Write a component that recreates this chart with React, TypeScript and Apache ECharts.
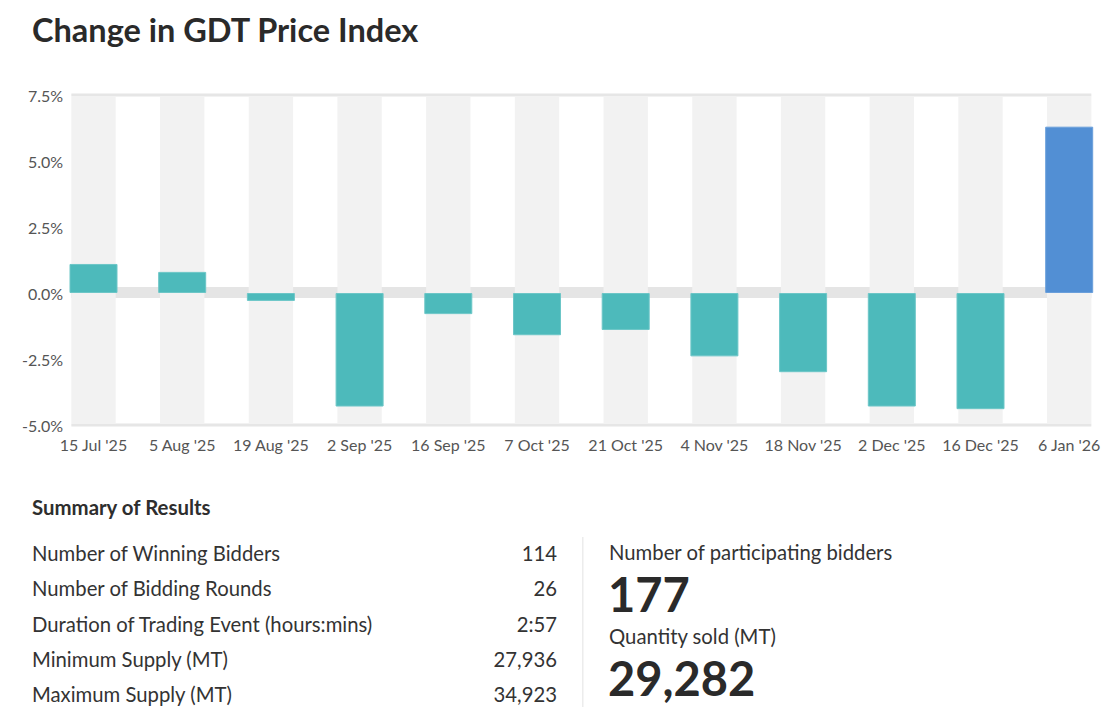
import React, { useEffect, useRef } from "react";
import * as echarts from "echarts";

const TITLE = "Change in GDT Price Index";
const CATEGORIES = [
  "15 Jul '25", "5 Aug '25", "19 Aug '25", "2 Sep '25", "16 Sep '25", "7 Oct '25",
  "21 Oct '25", "4 Nov '25", "18 Nov '25", "2 Dec '25", "16 Dec '25", "6 Jan '26",
];
const CHANGES = [1.1, 0.8, -0.3, -4.3, -0.8, -1.6, -1.4, -2.4, -3.0, -4.3, -4.4, 6.3];
const Y_MIN = -5;
const Y_MAX = 7.5;
const Y_STEP = 2.5;

const SUMMARY_TITLE = "Summary of Results";
const SUMMARY_LABELS = [
  "Number of Winning Bidders",
  "Number of Bidding Rounds",
  "Duration of Trading Event (hours:mins)",
  "Minimum Supply (MT)",
  "Maximum Supply (MT)",
];
const SUMMARY_VALUES = ["114", "26", "2:57", "27,936", "34,923"];
const KPI_LABELS = ["Number of participating bidders", "Quantity sold (MT)"];
const KPI_VALUES = ["177", "29,282"];

const FONT = "Lato, 'Noto Sans', sans-serif";
const TEAL = "#4dbabb";
const BLUE = "#528fd4";

export default function App() {
  const ref = useRef<HTMLDivElement>(null);
  useEffect(() => {
    if (!ref.current) return;
    const chart = echarts.init(ref.current, null, { renderer: "svg" });
    const last = CATEGORIES.length - 1;

    const graphics: any[] = [
      {
        type: "text", x: 32, y: 29.5,
        style: { text: TITLE, font: `bold 32.5px ${FONT}`, fill: "#2a2a2a", verticalAlign: "middle" },
      },
      {
        type: "text", x: 32, y: 507,
        style: { text: SUMMARY_TITLE, font: `bold 20.4px ${FONT}`, fill: "#2e2e2e", verticalAlign: "middle" },
      },
      {
        type: "rect", shape: { x: 582, y: 537, width: 1.5, height: 170 },
        style: { fill: "#ececec" },
      },
    ];
    SUMMARY_LABELS.forEach((lab, i) => {
      const y = 553 + i * 35.3;
      graphics.push({
        type: "text", x: 32, y,
        style: { text: lab, font: `20.3px ${FONT}`, fill: "#333", verticalAlign: "middle" },
      });
      graphics.push({
        type: "text", x: 557, y,
        style: { text: SUMMARY_VALUES[i], font: `20.3px ${FONT}`, fill: "#333", align: "right", verticalAlign: "middle" },
      });
    });
    const kpiLabelY = [552, 636];
    const kpiValueY = [594, 678];
    KPI_LABELS.forEach((lab, i) => {
      graphics.push({
        type: "text", x: 609, y: kpiLabelY[i],
        style: { text: lab, font: `20.3px ${FONT}`, fill: "#333", verticalAlign: "middle" },
      });
      graphics.push({
        type: "text", x: 608, y: kpiValueY[i],
        style: { text: KPI_VALUES[i], font: `bold 47px ${FONT}`, fill: "#2a2a2a", verticalAlign: "middle" },
      });
    });

    chart.setOption({
      animation: false,
      backgroundColor: "#fff",
      textStyle: { fontFamily: FONT },
      grid: { left: 49.15, width: 1064.4, top: 95, height: 330 },
      xAxis: {
        type: "category",
        data: CATEGORIES,
        axisLine: { show: false },
        axisTick: { show: false },
        splitLine: { show: false },
        axisLabel: { color: "#555", fontSize: 16, fontFamily: FONT, margin: 11, interval: 0 },
      },
      yAxis: {
        type: "value",
        min: Y_MIN,
        max: Y_MAX,
        interval: Y_STEP,
        offset: -22,
        axisLine: { show: false },
        axisTick: { show: false },
        splitLine: { show: false },
        axisLabel: {
          color: "#555", fontSize: 16, fontFamily: FONT, margin: 8,
          formatter: (v: number) => v.toFixed(1) + "%",
        },
      },
      graphic: graphics,
      series: [
        {
          type: "custom",
          name: "frame",
          z: 1,
          silent: true,
          data: [[0, 0]],
          renderItem: (params: any, api: any) => {
            const w = api.size([1, 0])[0] * 0.5;
            const x0 = api.coord([0, 0])[0] - w / 2;
            const x1 = api.coord([last, 0])[0] + w / 2;
            const yZero = api.coord([0, 0])[1];
            const yTop = api.coord([0, Y_MAX])[1];
            const yBot = api.coord([0, Y_MIN])[1];
            return {
              type: "group",
              children: [
                { type: "rect", shape: { x: x0, y: yZero - 6, width: x1 - x0, height: 11 }, style: { fill: "#e5e5e5" } },
                { type: "rect", shape: { x: x0, y: yTop - 1.5, width: x1 - x0, height: 3 }, style: { fill: "#e6e6e6" } },
                { type: "rect", shape: { x: x0, y: yBot - 1.5, width: x1 - x0, height: 3 }, style: { fill: "#e6e6e6" } },
              ],
            };
          },
        },
        {
          type: "custom",
          name: "bands",
          z: 2,
          silent: true,
          data: CATEGORIES.map((_, i) => [i, 0]),
          renderItem: (params: any, api: any) => {
            const w = api.size([1, 0])[0] * 0.5;
            const cx = api.coord([api.value(0), 0])[0];
            const yTop = api.coord([0, Y_MAX])[1] + 1.5;
            const yBot = api.coord([0, Y_MIN])[1] - 1.5;
            return {
              type: "rect",
              shape: { x: cx - w / 2, y: yTop, width: w, height: yBot - yTop },
              style: { fill: "#f2f2f2" },
            };
          },
        },
        {
          type: "bar",
          name: "Change",
          z: 3,
          barWidth: 48,
          data: CHANGES.map((v, i) => ({
            value: v,
            itemStyle: {
              color: i === last ? BLUE : TEAL,
              borderColor: i === last ? "#6a9fdb" : "#6cc6c7",
              borderWidth: 1,
            },
          })),
        },
      ],
    });
    return () => chart.dispose();
  }, []);
  return (
    <div
      ref={ref}
      style={{ position: "fixed", left: 0, top: 0, width: 1120, height: 718 }}
    />
  );
}
